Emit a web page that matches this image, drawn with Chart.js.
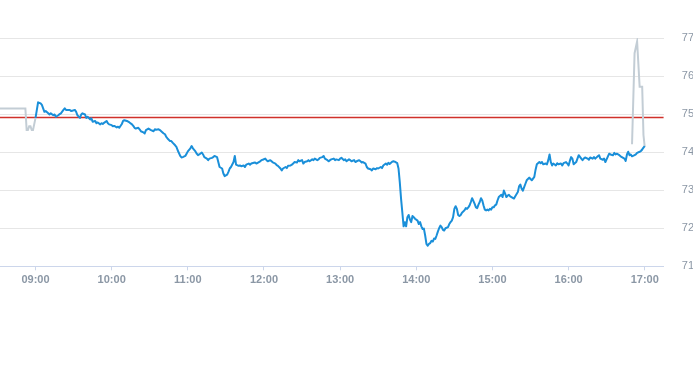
<!DOCTYPE html>
<html>
<head>
<meta charset="utf-8">
<script src="https://cdn.jsdelivr.net/npm/chart.js@4/dist/chart.umd.min.js"></script>
<style>
  html, body { margin: 0; padding: 0; background: #ffffff; }
  #wrap { width: 693px; height: 365px; position: relative; }
</style>
</head>
<body>
<div id="wrap"><canvas id="c"></canvas></div>
<script>
// ---- data ----
const xRange = ['08:32', '17:15'];
const yTickValues = [71, 72, 73, 74, 75, 76, 77];
const refLevel = 74.91;

const preTimes  = ['08:32','08:52','08:53','08:54','08:55','08:56','08:57','08:58','09:00'];
const preValues = [75.15, 75.15, 74.58, 74.58, 74.68, 74.68, 74.58, 74.58, 74.90];

const postTimes  = ['16:50','16:52','16:54','16:56','16:58','16:59','17:00'];
const postValues = [74.21, 76.60, 76.91, 75.72, 75.72, 74.45, 74.14];

const mainTimes = [
'09:00','09:02','09:04','09:05','09:06','09:07','09:08','09:10','09:11','09:12','09:14','09:15','09:16','09:18','09:19','09:20',
'09:22','09:23','09:24','09:26','09:27','09:28','09:29','09:31','09:32','09:33','09:35','09:36','09:37','09:39','09:40','09:41',
'09:43','09:44','09:45','09:47','09:48','09:49','09:51','09:52','09:53','09:54','09:56','09:57','09:58','10:00','10:01','10:02',
'10:04','10:05','10:06','10:08','10:09','10:10','10:12','10:13','10:14','10:16','10:17','10:18','10:19','10:21','10:22','10:23',
'10:25','10:26','10:27','10:29','10:30','10:31','10:33','10:34','10:35','10:37','10:38','10:39','10:41','10:42','10:43','10:44',
'10:46','10:47','10:48','10:50','10:51','10:52','10:54','10:55','10:56','10:58','10:59','11:00','11:02','11:03','11:04','11:06',
'11:07','11:08','11:09','11:11','11:12','11:13','11:15','11:16','11:17','11:19','11:20','11:21','11:23','11:24','11:25','11:27',
'11:28','11:29','11:31','11:32','11:33','11:34','11:36','11:37','11:38','11:40','11:41','11:42','11:44','11:45','11:46','11:48',
'11:49','11:50','11:52','11:53','11:54','11:56','11:57','11:58','11:59','12:01','12:02','12:03','12:05','12:06','12:07','12:09',
'12:10','12:11','12:13','12:14','12:15','12:17','12:18','12:19','12:21','12:22','12:23','12:24','12:26','12:27','12:28','12:30',
'12:31','12:32','12:34','12:35','12:36','12:38','12:39','12:40','12:42','12:43','12:44','12:46','12:47','12:48','12:50','12:51',
'12:52','12:53','12:55','12:56','12:57','12:59','13:00','13:01','13:03','13:04','13:05','13:07','13:08','13:09','13:11','13:12',
'13:13','13:15','13:16','13:17','13:18','13:20','13:21','13:22','13:24','13:25','13:26','13:28','13:29','13:30','13:32','13:33',
'13:34','13:36','13:37','13:38','13:39','13:41','13:42','13:43','13:45','13:46','13:47','13:48','13:49','13:50','13:51','13:52',
'13:53','13:54','13:55','13:56','13:57','13:58','13:59','14:01','14:02','14:03','14:04','14:05','14:06','14:07','14:08','14:09',
'14:10','14:11','14:12','14:13','14:14','14:15','14:16','14:17','14:18','14:19','14:20','14:21','14:22','14:23','14:25','14:26',
'14:27','14:28','14:29','14:30','14:31','14:32','14:33','14:34','14:35','14:36','14:37','14:38','14:39','14:40','14:41','14:42',
'14:43','14:44','14:46','14:47','14:48','14:49','14:50','14:51','14:52','14:53','14:54','14:55','14:56','14:57','14:58','14:59',
'15:00','15:01','15:02','15:03','15:04','15:05','15:07','15:08','15:09','15:10','15:11','15:12','15:13','15:14','15:15','15:17',
'15:18','15:20','15:21','15:22','15:23','15:24','15:25','15:26','15:27','15:29','15:30','15:31','15:33','15:34','15:35','15:37',
'15:38','15:39','15:40','15:42','15:43','15:44','15:45','15:46','15:47','15:48','15:50','15:51','15:52','15:54','15:55','15:56',
'15:58','15:59','16:00','16:01','16:02','16:03','16:04','16:06','16:07','16:08','16:10','16:11','16:12','16:13','16:15','16:16',
'16:17','16:19','16:20','16:21','16:23','16:24','16:25','16:27','16:28','16:29','16:31','16:32','16:33','16:35','16:36','16:37',
'16:38','16:40','16:41','16:42','16:44','16:45','16:46','16:47','16:48','16:49','16:50','16:52','16:53','16:54','16:56','16:57',
'16:58','16:59','17:00'
];
const mainValues = [
74.90,75.31,75.28,75.24,75.15,75.06,75.08,75.02,74.99,75.02,74.97,74.99,74.93,74.97,75.00,75.02,
75.11,75.15,75.11,75.11,75.11,75.08,75.09,75.11,75.06,74.97,74.90,74.99,75.02,74.99,74.90,74.93,
74.86,74.89,74.80,74.82,74.76,74.78,74.73,74.76,74.74,74.77,74.82,74.76,74.73,74.71,74.68,74.69,
74.65,74.67,74.64,74.74,74.82,74.84,74.82,74.80,74.78,74.73,74.69,74.64,74.62,74.64,74.60,74.55,
74.52,74.49,74.58,74.62,74.60,74.58,74.55,74.60,74.59,74.60,74.58,74.55,74.49,74.47,74.40,74.36,
74.29,74.29,74.25,74.18,74.14,74.05,73.90,73.86,73.87,73.90,73.96,74.02,74.10,74.16,74.10,74.02,
73.96,73.92,73.94,73.99,73.94,73.87,73.83,73.79,73.83,73.85,73.87,73.90,73.87,73.74,73.61,73.57,
73.44,73.37,73.41,73.48,73.57,73.61,73.74,73.90,73.67,73.64,73.65,73.63,73.65,73.61,73.67,73.70,
73.67,73.70,73.72,73.73,73.70,73.74,73.76,73.79,73.80,73.83,73.79,73.76,73.79,73.76,73.73,73.70,
73.66,73.64,73.57,73.52,73.57,73.61,73.58,73.64,73.65,73.67,73.70,73.74,73.73,73.79,73.76,73.79,
73.70,73.74,73.76,73.79,73.76,73.81,73.79,73.83,73.79,73.81,73.85,73.87,73.90,73.83,73.79,73.76,
73.79,73.81,73.83,73.79,73.81,73.79,73.83,73.85,73.79,73.81,73.76,73.81,73.79,73.76,73.79,73.74,
73.76,73.79,73.76,73.73,73.74,73.70,73.61,73.57,73.55,73.52,73.57,73.55,73.58,73.57,73.61,73.58,
73.65,73.70,73.67,73.72,73.69,73.75,73.76,73.75,73.71,73.57,73.21,72.78,72.42,72.05,72.16,72.05,
72.29,72.35,72.23,72.16,72.32,72.29,72.25,72.20,72.11,72.16,72.05,71.98,71.99,71.81,71.59,71.54,
71.59,71.61,71.67,71.65,71.73,71.72,71.81,71.91,72.00,72.07,72.03,71.96,71.94,72.00,72.03,72.11,
72.16,72.20,72.29,72.51,72.58,72.51,72.35,72.32,72.35,72.41,72.44,72.47,72.53,72.51,72.55,72.60,
72.69,72.79,72.64,72.55,72.53,72.62,72.69,72.79,72.73,72.60,72.49,72.47,72.49,72.47,72.51,72.49,
72.55,72.55,72.60,72.62,72.73,72.82,72.88,72.82,72.99,72.91,72.82,72.86,72.88,72.84,72.82,72.78,
72.84,72.95,73.10,73.15,73.04,72.99,73.08,73.17,73.26,73.33,73.30,73.26,73.35,73.54,73.68,73.74,
73.71,73.74,73.68,73.70,73.68,73.79,73.94,73.74,73.65,73.70,73.65,73.71,73.68,73.70,73.65,73.71,
73.74,73.70,73.65,73.77,73.87,73.83,73.68,73.74,73.83,73.92,73.83,73.79,73.83,73.86,73.83,73.80,
73.86,73.83,73.87,73.83,73.89,73.92,73.83,73.80,73.83,73.74,73.89,73.96,73.94,73.92,73.98,73.94,
73.96,73.92,73.89,73.87,73.83,73.77,73.94,74.01,73.92,73.94,73.89,73.92,73.94,73.98,74.01,74.03,
74.07,74.12,74.16
];

// ---- helpers ----
function toMin(t) { const p = t.split(':'); return (+p[0]) * 60 + (+p[1]); }
function pad(n) { return (n < 10 ? '0' : '') + n; }
function fmt(m) { return pad(Math.floor(m / 60)) + ':' + pad(m % 60); }
function pts(ts, vs) { return ts.map((t, i) => ({ x: toMin(t), y: vs[i] })); }

const xMin = toMin(xRange[0]);
const xMax = toMin(xRange[1]);

const FONT = "'Liberation Sans', Arial, Helvetica, sans-serif";
const LABEL = '#8b97a5';

new Chart(document.getElementById('c'), {
  type: 'line',
  data: {
    datasets: [
      { data: pts(mainTimes, mainValues), borderColor: '#1a8fd9', borderWidth: 2, pointRadius: 0, tension: 0, borderJoinStyle: 'round' },
      { data: pts(preTimes, preValues), borderColor: '#c3cdd5', borderWidth: 2, pointRadius: 0, tension: 0 },
      { data: pts(postTimes, postValues), borderColor: '#c3cdd5', borderWidth: 2, pointRadius: 0, tension: 0 },
      { data: [{ x: xMin, y: refLevel }, { x: xMax, y: refLevel }], borderColor: '#d0302a', borderWidth: 1.4, pointRadius: 0 }
    ]
  },
  options: {
    responsive: true,
    maintainAspectRatio: false,
    animation: false,
    events: [],
    layout: { padding: { top: 38, bottom: 75.5, left: 0, right: -4 } },
    plugins: { legend: { display: false }, tooltip: { enabled: false } },
    scales: {
      x: {
        type: 'linear',
        min: xMin,
        max: xMax,
        grid: { drawOnChartArea: false, drawTicks: true, tickLength: 4, color: '#ccd6eb' },
        border: { display: true, color: '#ccd6eb' },
        ticks: {
          stepSize: 60,
          includeBounds: false,
          autoSkip: false,
          maxRotation: 0,
          padding: 3,
          color: LABEL,
          font: { family: FONT, size: 11, weight: 'bold' },
          callback: (v) => fmt(v)
        }
      },
      y: {
        position: 'right',
        min: yTickValues[0],
        max: yTickValues[yTickValues.length - 1],
        grid: { color: '#e6e6e6', drawTicks: true, tickLength: 15, tickColor: 'rgba(0,0,0,0)' },
        border: { display: false },
        afterBuildTicks: (axis) => { axis.ticks = yTickValues.map(v => ({ value: v })); },
        ticks: {
          padding: 3,
          color: LABEL,
          font: { family: FONT, size: 11 }
        }
      }
    }
  }
});
</script>
</body>
</html>
